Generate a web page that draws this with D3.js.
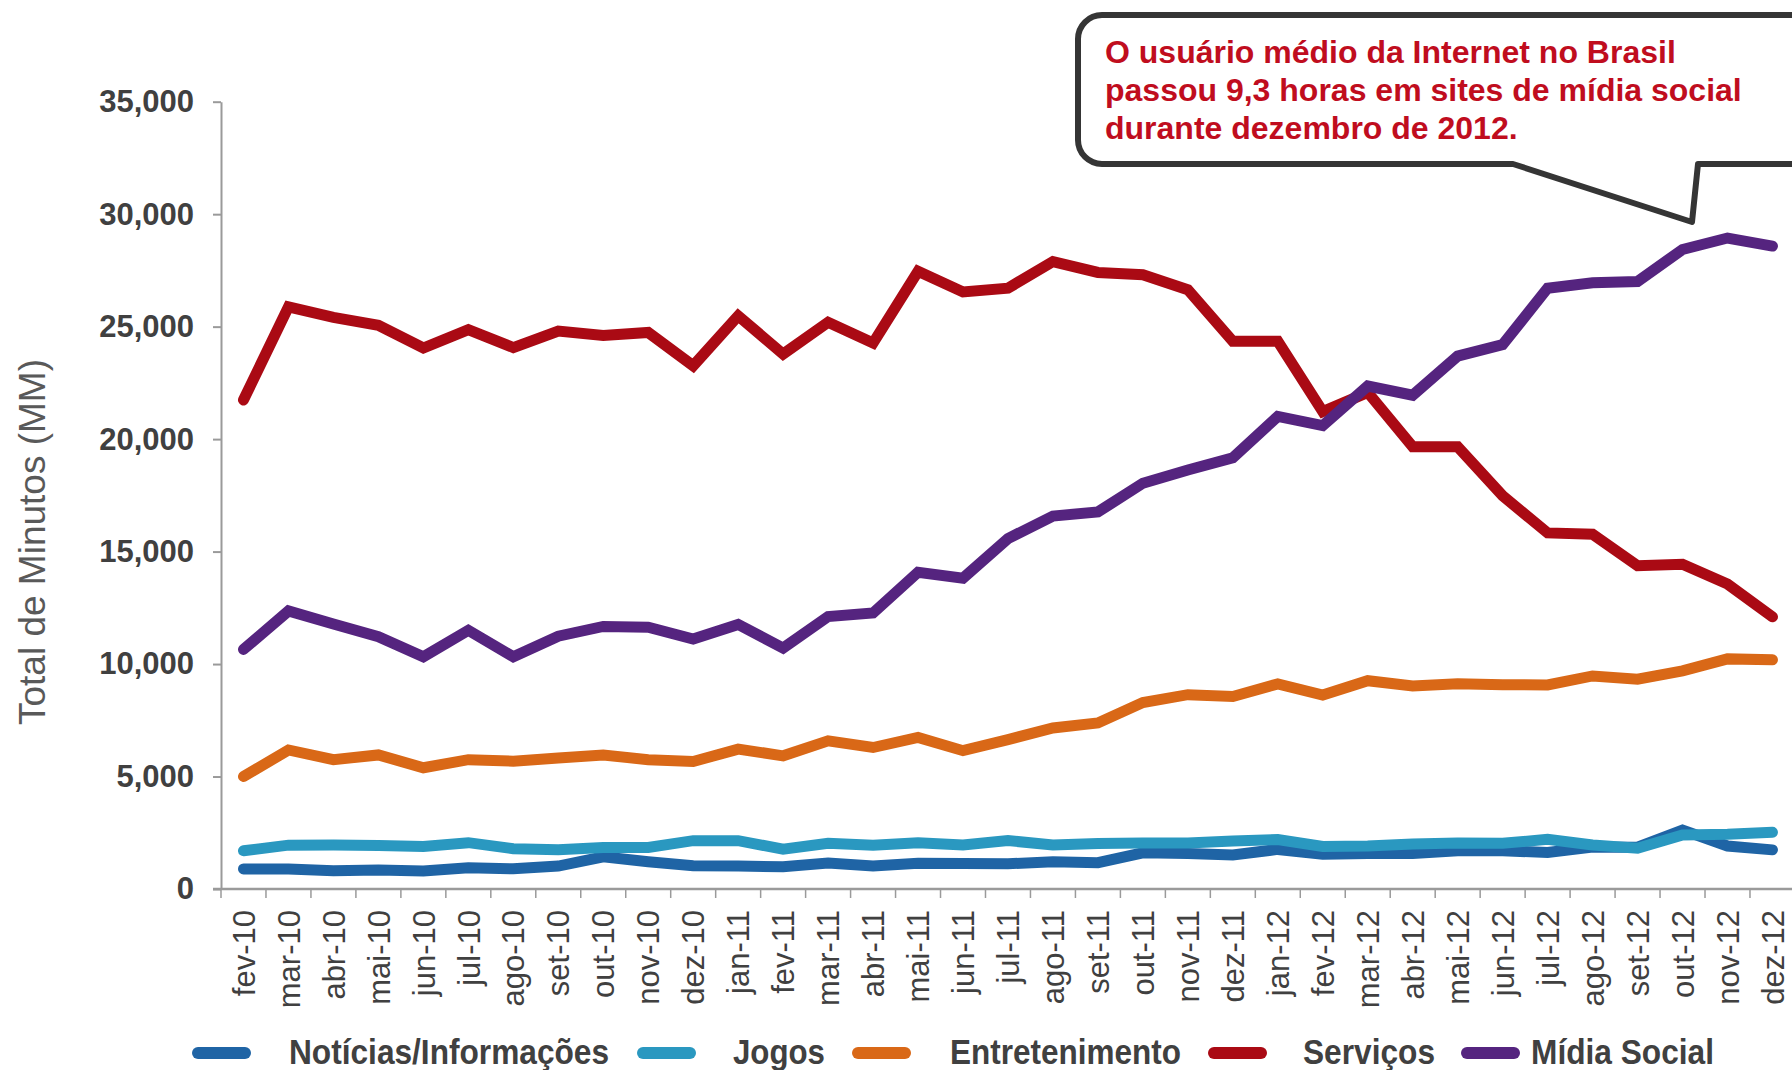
<!DOCTYPE html>
<html>
<head>
<meta charset="utf-8">
<script src="https://cdn.jsdelivr.net/npm/d3@7"></script>
<style>
  body { margin: 0; background: #fff; }
  svg { display: block; }
  text { font-family: "Liberation Sans", Arial, Helvetica, sans-serif; }
</style>
</head>
<body>
<svg id="chart" width="1792" height="1070"></svg>
<script>
// Months on the category axis
const months = ["fev-10","mar-10","abr-10","mai-10","jun-10","jul-10","ago-10","set-10","out-10","nov-10","dez-10",
  "jan-11","fev-11","mar-11","abr-11","mai-11","jun-11","jul-11","ago-11","set-11","out-11","nov-11","dez-11",
  "jan-12","fev-12","mar-12","abr-12","mai-12","jun-12","jul-12","ago-12","set-12","out-12","nov-12","dez-12"];

// Total minutes (millions) per category
const noticias = [890, 890, 810, 845, 800, 940, 900, 1020, 1430, 1210, 1030, 1020, 990, 1150, 1020, 1140, 1130,
  1120, 1210, 1170, 1610, 1580, 1510, 1760, 1540, 1580, 1580, 1700, 1700, 1620, 1870, 1860, 2620, 1910, 1740];
const jogos = [1700, 1950, 1960, 1930, 1890, 2060, 1790, 1740, 1840, 1850, 2150, 2150, 1770, 2030, 1950, 2060, 1960,
  2150, 1960, 2020, 2050, 2050, 2130, 2200, 1890, 1910, 2000, 2050, 2030, 2210, 1960, 1810, 2400, 2430, 2520];
const entretenimento = [5000, 6180, 5750, 5960, 5390, 5750, 5680, 5820, 5960, 5750, 5670, 6220, 5920, 6590, 6290, 6740, 6150,
  6640, 7160, 7380, 8290, 8640, 8560, 9120, 8620, 9260, 9030, 9120, 9080, 9070, 9470, 9330, 9700, 10230, 10190];
const servicos = [21740, 25880, 25410, 25060, 24050, 24870, 24070, 24800, 24610, 24740, 23260, 25480, 23780, 25190, 24270, 27460, 26540,
  26710, 27890, 27410, 27310, 26640, 24350, 24350, 21220, 22080, 19660, 19660, 17480, 15830, 15770, 14370, 14440, 13560, 12100];
const midiaSocial = [10650, 12360, 11780, 11220, 10320, 11500, 10320, 11240, 11670, 11640, 11110, 11760, 10710, 12110, 12270, 14080, 13820,
  15580, 16580, 16760, 18040, 18630, 19170, 21010, 20600, 22360, 21950, 23690, 24200, 26710, 26950, 27010, 28430, 28940, 28580];

const seriesNames = ["Notícias/Informações", "Jogos", "Entretenimento", "Serviços", "Mídia Social"];
const seriesColors = ["#1f64a5", "#2a98c0", "#d96817", "#aa0a14", "#55247f"];
const yTicks = [0, 5000, 10000, 15000, 20000, 25000, 30000, 35000];
const yTitle = "Total de Minutos (MM)";
const calloutLines = ["O usuário médio da Internet no Brasil",
  "passou 9,3 horas em sites de mídia social",
  "durante dezembro de 2012."];

const seriesValues = [noticias, jogos, entretenimento, servicos, midiaSocial];

const svg = d3.select("#chart");

// Plot frame
const plotLeft = 221, bandW = 44.97, plotTop = 101.7, plotBottom = 889;
const x = d3.scaleBand().domain(months).range([plotLeft, plotLeft + months.length * bandW]).padding(0);
const y = d3.scaleLinear().domain([0, 35000]).range([plotBottom, plotTop]);
const cx = m => x(m) + x.bandwidth() / 2;

// Y axis
const yAxis = svg.append("g")
  .attr("transform", `translate(${plotLeft},0)`)
  .call(d3.axisLeft(y).tickValues(yTicks).tickFormat(d3.format(",")).tickSize(8).tickSizeOuter(0).tickPadding(19));
yAxis.select(".domain").attr("stroke", "#9a9a9a").attr("stroke-width", 2);
yAxis.selectAll(".tick line").attr("stroke", "#9a9a9a").attr("stroke-width", 2);
yAxis.selectAll(".tick text")
  .attr("fill", "#404040").attr("font-size", 31).attr("font-weight", "bold")
  .attr("font-family", "'Liberation Sans', Arial, sans-serif");

// X axis line and boundary ticks
svg.append("line")
  .attr("x1", plotLeft - 8).attr("x2", 1792).attr("y1", plotBottom).attr("y2", plotBottom)
  .attr("stroke", "#9a9a9a").attr("stroke-width", 2.5);
svg.append("g").selectAll("line")
  .data(d3.range(months.length + 1))
  .join("line")
  .attr("x1", i => plotLeft + i * x.bandwidth()).attr("x2", i => plotLeft + i * x.bandwidth())
  .attr("y1", plotBottom).attr("y2", plotBottom + 9)
  .attr("stroke", "#9a9a9a").attr("stroke-width", 1.5);

// X tick labels, rotated
svg.append("g").selectAll("text")
  .data(months)
  .join("text")
  .attr("transform", m => `translate(${cx(m)},${plotBottom + 21}) rotate(-90)`)
  .attr("text-anchor", "end")
  .attr("dy", "0.36em")
  .attr("font-size", 31)
  .attr("fill", "#404040")
  .text(m => m);

// Y axis title
svg.append("text")
  .attr("transform", "translate(45,542) rotate(-90)")
  .attr("text-anchor", "middle")
  .attr("font-size", 37)
  .attr("fill", "#595959")
  .text(yTitle);

// Series lines
const line = d3.line().x((v, i) => cx(months[i])).y(v => y(v));
svg.append("g").selectAll("path")
  .data(seriesValues)
  .join("path")
  .attr("d", vals => line(vals))
  .attr("fill", "none")
  .attr("stroke", (d, i) => seriesColors[i])
  .attr("stroke-width", 11)
  .attr("stroke-linecap", "round")
  .attr("stroke-linejoin", "miter")
  .attr("stroke-miterlimit", 4);

// Callout bubble
const bx0 = 1078, by0 = 15, by1 = 164, r = 24, bx1 = 1810;
const bubble = d3.path();
bubble.moveTo(bx1, by0);
bubble.lineTo(bx0 + r, by0);
bubble.arcTo(bx0, by0, bx0, by0 + r, r);
bubble.lineTo(bx0, by1 - r);
bubble.arcTo(bx0, by1, bx0 + r, by1, r);
bubble.lineTo(1513, by1);
bubble.lineTo(1692, 222);
bubble.lineTo(1698, by1);
bubble.lineTo(bx1, by1);
svg.append("path")
  .attr("d", bubble.toString())
  .attr("fill", "#fff")
  .attr("stroke", "#353535")
  .attr("stroke-width", 6)
  .attr("stroke-linejoin", "round");

svg.append("g").selectAll("text")
  .data(calloutLines)
  .join("text")
  .attr("x", 1105)
  .attr("y", (d, i) => 63 + i * 38)
  .attr("font-size", 32)
  .attr("font-weight", "bold")
  .attr("fill", "#c00d1e")
  .text(d => d);

// Legend
const legendSwatchX = [192, 637, 852, 1208, 1461];
const legendTextX = [289, 733, 950, 1303, 1531];
const legendTextW = [320, 92, 231, 132, 183];
const legendY = 1053;
const legend = svg.append("g");
seriesNames.forEach((name, i) => {
  legend.append("line")
    .attr("x1", legendSwatchX[i] + 6).attr("x2", legendSwatchX[i] + 53)
    .attr("y1", legendY).attr("y2", legendY)
    .attr("stroke", seriesColors[i]).attr("stroke-width", 12).attr("stroke-linecap", "round");
  legend.append("text")
    .attr("x", legendTextX[i]).attr("y", legendY + 11)
    .attr("font-size", 35).attr("font-weight", "bold").attr("fill", "#404040")
    .attr("textLength", legendTextW[i]).attr("lengthAdjust", "spacingAndGlyphs")
    .text(name);
});
</script>
</body>
</html>
